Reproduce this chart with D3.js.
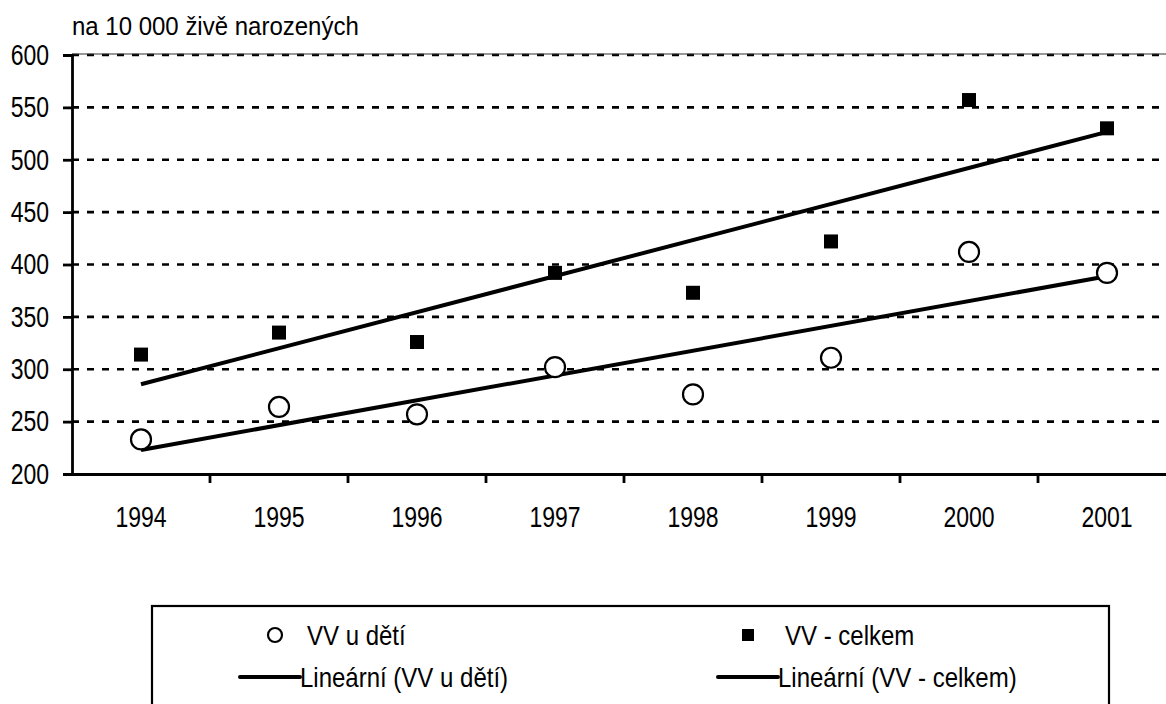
<!DOCTYPE html>
<html><head><meta charset="utf-8">
<script src="https://cdn.jsdelivr.net/npm/d3@7/dist/d3.min.js"></script>
<style>
body{margin:0;background:#fff}svg{display:block}
text{font-family:"Liberation Sans",Arial,sans-serif;fill:#000;transform-box:fill-box;transform-origin:center}
.tk{transform:scaleY(1.25)}
.lg{transform:scaleY(1.16)}
.ti{transform:scaleY(1.06)}
</style>
</head><body>
<svg id="c" width="1166" height="704"></svg>
<script>
const years = ["1994","1995","1996","1997","1998","1999","2000","2001"];
const children = [233, 264, 257, 302, 276, 311, 412, 392];
const total = [314, 335, 326, 392, 373, 422, 557, 530];
const yTicks = [200, 250, 300, 350, 400, 450, 500, 550, 600];
const unitLabel = "na 10 000 živě narozených";
const legendLabels = ["VV u dětí", "VV - celkem", "Lineární (VV u dětí)", "Lineární (VV - celkem)"];

const svg = d3.select("#c");
const pLeft = 72, pTop = 55, pBottom = 474, bandW = 138;
const x = d3.scaleBand().domain(years).range([pLeft, pLeft + bandW * years.length]);
const y = d3.scaleLinear().domain([200, 600]).range([pBottom, pTop]);
const fs = 24, tfs = 23;
const ff = "Liberation Sans, Arial, sans-serif";

// gridlines
svg.append("g").selectAll("line").data(yTicks.filter(v => v > 200)).join("line")
  .attr("x1", pLeft).attr("x2", 1166).attr("y1", d => y(d)).attr("y2", d => y(d))
  .attr("stroke", "#000").attr("stroke-width", 2.6).attr("stroke-dasharray", "7,8");
svg.append("line").attr("x1", pLeft).attr("x2", 1166).attr("y1", y(600) - 1).attr("y2", y(600) - 1)
  .attr("stroke", "#333").attr("stroke-width", 1.2);

// y axis
const yAxis = svg.append("g").attr("transform", `translate(${pLeft},0)`)
  .call(d3.axisLeft(y).tickValues(yTicks).tickSize(9).tickPadding(14));
yAxis.select(".domain").attr("stroke", "#000").attr("stroke-width", 2.8);
yAxis.selectAll(".tick line").attr("stroke", "#000").attr("stroke-width", 2.8);
yAxis.selectAll(".tick text").attr("font-size", tfs).attr("font-family", ff).attr("class", "tk");

// x axis
const xAxis = svg.append("g").attr("transform", `translate(0,${pBottom})`)
  .call(d3.axisBottom(x).tickSize(0).tickPadding(35));
xAxis.select(".domain").attr("stroke", "#000").attr("stroke-width", 2.8);
xAxis.selectAll(".tick text").attr("font-size", tfs).attr("font-family", ff).attr("class", "tk");
svg.append("g").selectAll("line").data(years.slice(1)).join("line")
  .attr("x1", d => x(d)).attr("x2", d => x(d)).attr("y1", pBottom).attr("y2", pBottom + 9)
  .attr("stroke", "#000").attr("stroke-width", 2.8);

// unit label
svg.append("text").attr("class", "ti").attr("x", pLeft).attr("y", 35).attr("font-size", fs).text(unitLabel);

// trendlines (least squares)
function fit(vals) {
  const n = vals.length, xs = d3.range(n);
  const mx = d3.mean(xs), my = d3.mean(vals);
  const b = d3.sum(xs, i => (i - mx) * (vals[i] - my)) / d3.sum(xs, i => (i - mx) ** 2);
  return [my - b * mx, my - b * mx + b * (n - 1)];
}
const cx = d => x(d) + x.bandwidth() / 2;
[children, total].forEach(vals => {
  const [a, e] = fit(vals);
  svg.append("line").attr("x1", cx(years[0])).attr("x2", cx(years[years.length - 1]))
    .attr("y1", y(a)).attr("y2", y(e)).attr("stroke", "#000").attr("stroke-width", 4);
});

// markers
svg.append("g").selectAll("circle").data(children).join("circle")
  .attr("cx", (d, i) => cx(years[i])).attr("cy", d => y(d)).attr("r", 10)
  .attr("fill", "#fff").attr("stroke", "#000").attr("stroke-width", 2.2);
const sq = 14;
svg.append("g").selectAll("rect").data(total).join("rect")
  .attr("x", (d, i) => cx(years[i]) - sq / 2).attr("y", d => y(d) - sq / 2)
  .attr("width", sq).attr("height", sq).attr("fill", "#000");

// legend
svg.append("rect").attr("x", 152).attr("y", 606).attr("width", 957).attr("height", 120)
  .attr("fill", "none").attr("stroke", "#000").attr("stroke-width", 2.2);
const r1 = 635, r2 = 677;
svg.append("circle").attr("cx", 275).attr("cy", r1).attr("r", 7).attr("fill", "#fff").attr("stroke", "#000").attr("stroke-width", 2.2);
svg.append("text").attr("class", "lg").attr("x", 307).attr("y", r1).attr("dy", "0.35em").attr("font-size", fs).text(legendLabels[0]);
svg.append("rect").attr("x", 742).attr("y", r1 - 6).attr("width", 12).attr("height", 12).attr("fill", "#000");
svg.append("text").attr("class", "lg").attr("x", 785).attr("y", r1).attr("dy", "0.35em").attr("font-size", fs).text(legendLabels[1]);
svg.append("line").attr("x1", 240).attr("x2", 300).attr("y1", r2).attr("y2", r2).attr("stroke", "#000").attr("stroke-width", 4).attr("stroke-linecap", "round");
svg.append("text").attr("class", "lg").attr("x", 300).attr("y", r2).attr("dy", "0.35em").attr("font-size", fs).text(legendLabels[2]);
svg.append("line").attr("x1", 718).attr("x2", 778).attr("y1", r2).attr("y2", r2).attr("stroke", "#000").attr("stroke-width", 4).attr("stroke-linecap", "round");
svg.append("text").attr("class", "lg").attr("x", 778).attr("y", r2).attr("dy", "0.35em").attr("font-size", fs).text(legendLabels[3]);
</script>
</body></html>
